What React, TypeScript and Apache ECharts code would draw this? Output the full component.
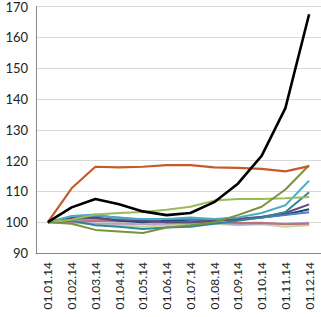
import React, { useEffect, useRef } from "react";
import * as echarts from "echarts";

const categories = ["01.01.14","01.02.14","01.03.14","01.04.14","01.05.14","01.06.14","01.07.14","01.08.14","01.09.14","01.10.14","01.11.14","01.12.14"];

const sBlack = [100,104.8,107.5,105.8,103.5,102.3,103,106.5,112.5,121.5,137,167.5];
const sRust = [100,111,118,117.8,118,118.5,118.5,117.8,117.6,117.3,116.5,118.2];
const sOlive = [100,99.5,97.5,97,96.5,98.3,99,100,102.3,105,110.6,118.5];
const sLightGreen = [100,100.8,102.5,103,103.3,104,105,107,107.5,107.5,107.8,108.2];
const sAqua = [100,102,102.5,101.3,101,101,101.5,101,101.5,103,105.5,113.5];
const sDarkTeal = [100,100.5,99,98.5,97.8,98.3,98.5,99.5,100.5,101.5,103.3,109.7];
const sPurple = [100,101.3,101.2,100.8,100.5,100,100,100.5,101,101.8,103,105.8];
const sBlue = [100,101.5,102,101.5,100.8,101,101,100.8,101,101.5,102.3,103.2];
const sDarkBlue = [100,101,101.5,100.5,100,100.5,100.8,100.8,100.8,101.5,102.5,104.2];
const sPink = [100,100.2,100.5,100.3,100.5,100,100,100,99.7,99.8,99.3,99.5];
const sLavender = [100,100,99.6,99.5,99.3,99.5,99.8,99.8,99.3,99.5,99.5,99.8];
const sKhaki = [100,99.8,99.3,99,98.5,99,99.5,99.5,99,99.3,98.5,99];

const yTicks = { min: 90, max: 170, interval: 10 };

export default function App() {
  const ref = useRef<HTMLDivElement>(null);
  useEffect(() => {
    if (!ref.current) return;
    const chart = echarts.init(ref.current, null, { renderer: "svg" });
    const mk = (name: string, data: number[], color: string, width = 2) => ({
      name, type: "line", data, symbol: "none", smooth: false,
      lineStyle: { color, width }, itemStyle: { color },
    });
    chart.setOption({
      animation: false,
      grid: { left: 36, right: 0, top: 5, bottom: 64 },
      xAxis: {
        type: "category",
        data: categories,
        boundaryGap: true,
        axisLine: { lineStyle: { color: "#868686", width: 1 } },
        axisTick: { show: false },
        axisLabel: { rotate: 90, margin: 9, fontSize: 12, color: "#222", fontFamily: "Lato" },
      },
      yAxis: {
        type: "value",
        min: yTicks.min, max: yTicks.max, interval: yTicks.interval,
        axisLine: { show: true, lineStyle: { color: "#868686", width: 1 } },
        axisTick: { show: false },
        splitLine: { lineStyle: { color: "#D9D9D9", width: 1 } },
        axisLabel: { margin: 8, fontSize: 13, color: "#222", fontFamily: "Lato" },
      },
      series: [
        mk("khaki", sKhaki, "#C3D69B"),
        mk("lavender", sLavender, "#B3A2C7"),
        mk("pink", sPink, "#C0707A"),
        mk("darkblue", sDarkBlue, "#1F497D"),
        mk("blue", sBlue, "#4F81BD"),
        mk("purple", sPurple, "#604A7B"),
        mk("darkteal", sDarkTeal, "#31859C"),
        mk("aqua", sAqua, "#4BACC6"),
        mk("lightgreen", sLightGreen, "#9BBB59"),
        mk("olive", sOlive, "#77933C"),
        mk("rust", sRust, "#C65A28", 2.2),
        mk("black", sBlack, "#000000", 2.6),
      ],
    });
    return () => chart.dispose();
  }, []);
  return <div ref={ref} style={{ width: 321, height: 317, position: "absolute", left: 0, top: 0 }} />;
}
